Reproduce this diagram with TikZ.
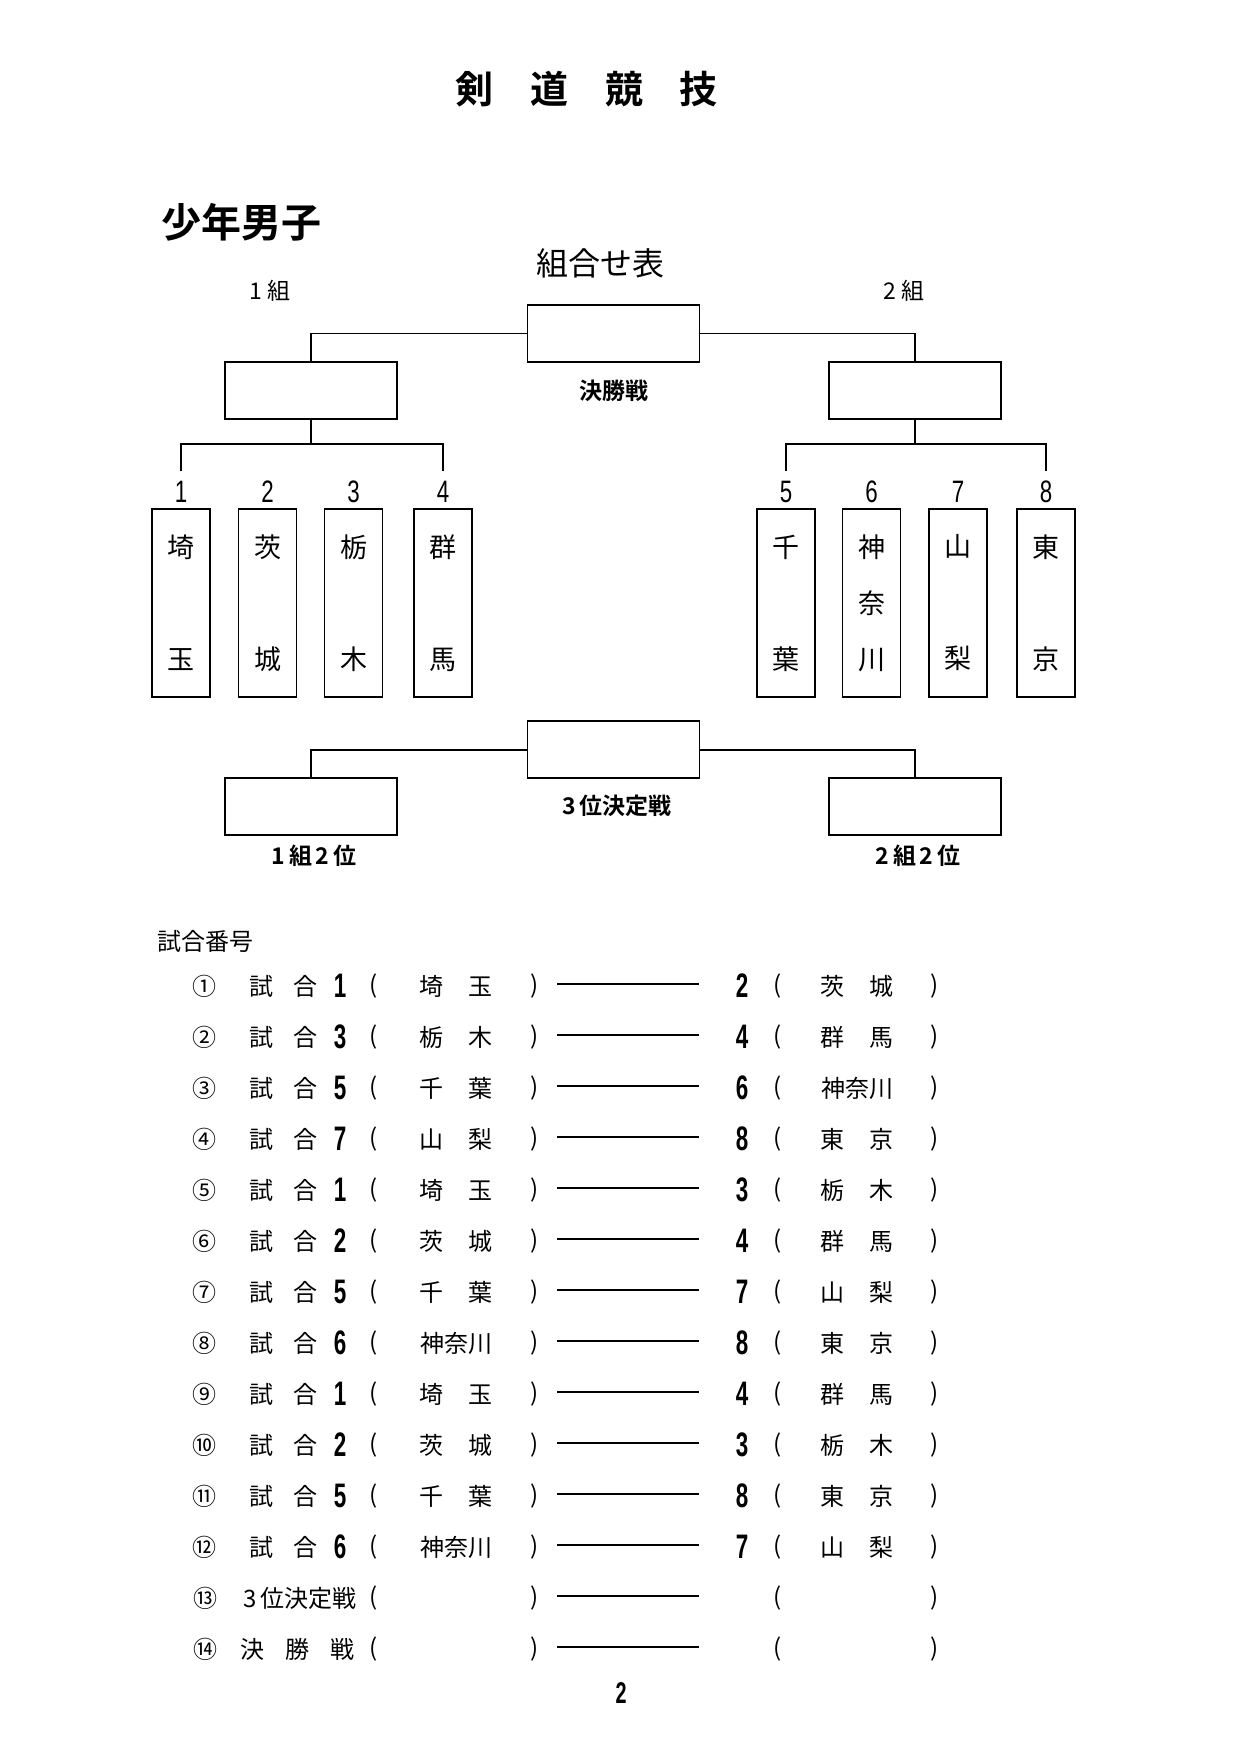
\documentclass[tikz,border=0pt]{standalone}
\usepackage{fontspec}
\setmainfont{Noto Sans CJK JP}[BoldFont={Noto Sans CJK JP Bold}]
\newfontfamily\digfont{Liberation Sans}[FakeStretch=0.72]
\newfontfamily\digbold{Liberation Sans Bold}[FakeStretch=0.66]
\usetikzlibrary{calc}
\newcommand{\ken}[2]{#1\hspace{25pt}#2}

\tikzset{
  winbox/.style={draw, line width=1.6pt, minimum width=172pt, minimum height=57pt, inner sep=0pt},
  teambox/.style={draw, line width=1.6pt, minimum width=58pt, minimum height=188pt, inner sep=0pt,
    align=center, font=\fontsize{27}{56}\selectfont},
  seed/.style={font=\digfont\fontsize{31}{31}\selectfont, inner sep=10pt},
  boldlbl/.style={font=\bfseries\fontsize{23}{23}\selectfont, inner sep=0pt},
  cell/.style={font=\fontsize{24}{24}\selectfont, inner sep=0pt},
  cellnum/.style={font=\digbold\fontsize{34}{34}\selectfont, inner sep=0pt},
  link/.style={line width=1.6pt},
}

\begin{document}
\begin{tikzpicture}[x=1pt, y=-1pt]
    \useasboundingbox (0,0) rectangle (1241,1755);
    \fill[white] (0,0) rectangle (1241,1755);

    % Titles
    \node[font=\bfseries\fontsize{38}{38}\selectfont] (ti1) at (474,89) {剣};
    \node[font=\bfseries\fontsize{38}{38}\selectfont] (ti2) at (549,89) {道};
    \node[font=\bfseries\fontsize{38}{38}\selectfont] (ti3) at (624,89) {競};
    \node[font=\bfseries\fontsize{38}{38}\selectfont] (ti4) at (698,89) {技};
    \node[anchor=west, font=\bfseries\fontsize{40}{40}\selectfont, inner sep=0pt] (event) at (161,222) {少年男子};
    \node[font=\fontsize{32}{32}\selectfont] (sheet) at (600,263) {組合せ表};
    \node[font=\fontsize{23}{23}\selectfont] (grp1) at (270,291) {1 組};
    \node[font=\fontsize{23}{23}\selectfont] (grp2) at (904,291) {2 組};

    % Final and group winners
    \node[winbox] (fin) at (613.5,333.5) {};
    \node[winbox] (semi1) at (311,390.5) {};
    \node[winbox] (semi2) at (915,390.5) {};
    \node[boldlbl] (finlbl) at (614,390.5) {決勝戦};
    \draw[link] (fin.west) -| (semi1.north);
    \draw[link] (fin.east) -| (semi2.north);

    % Teams, group 1
    \node[teambox] (t1) at (181,603) {埼\\[56pt]玉};
    \node[teambox] (t2) at (267.5,603) {茨\\[56pt]城};
    \node[teambox] (t3) at (353.5,603) {栃\\[56pt]木};
    \node[teambox] (t4) at (443,603) {群\\[56pt]馬};
    \node[seed] (n1) at (181,492) {1};
    \node[seed] (n2) at (267.5,492) {2};
    \node[seed] (n3) at (353.5,492) {3};
    \node[seed] (n4) at (443,492) {4};

    % Teams, group 2
    \node[teambox] (t5) at (786,603) {千\\[56pt]葉};
    \node[teambox] (t6) at (871.5,603) {神\\奈\\川};
    \node[teambox] (t7) at (958,603) {山\\[56pt]梨};
    \node[teambox] (t8) at (1046,603) {東\\[56pt]京};
    \node[seed] (n5) at (786,492) {5};
    \node[seed] (n6) at (871.5,492) {6};
    \node[seed] (n7) at (958,492) {7};
    \node[seed] (n8) at (1046,492) {8};

    % Group brackets
    \coordinate (j1) at (311,444);
    \coordinate (j2) at (915,444);
    \draw[link] (semi1.south) -- (j1);
    \draw[link] (n1.north) |- (j1) -| (n4.north);
    \draw[link] (semi2.south) -- (j2);
    \draw[link] (n5.north) |- (j2) -| (n8.north);

    % Third place
    \node[winbox] (third) at (613.5,749.7) {};
    \node[winbox] (sec1) at (311,806.3) {};
    \node[winbox] (sec2) at (915,806.3) {};
    \node[boldlbl] (thirdlbl) at (617,806) {3\,位決定戦};
    \node[boldlbl] (sec1lbl) at (314,856) {1\,組\,2\,位};
    \node[boldlbl] (sec2lbl) at (918,856) {2\,組\,2\,位};
    \draw[link] (third.west) -| (sec1.north);
    \draw[link] (third.east) -| (sec2.north);

    % Match list
    \node[cell, anchor=west] (listhead) at (157,941) {試合番号};
    \foreach \mno/\lnum/\lft/\rnum/\rgt [count=\i] in {
        ①/1/{\ken{埼}{玉}}/2/{\ken{茨}{城}},
        ②/3/{\ken{栃}{木}}/4/{\ken{群}{馬}},
        ③/5/{\ken{千}{葉}}/6/{神奈川},
        ④/7/{\ken{山}{梨}}/8/{\ken{東}{京}},
        ⑤/1/{\ken{埼}{玉}}/3/{\ken{栃}{木}},
        ⑥/2/{\ken{茨}{城}}/4/{\ken{群}{馬}},
        ⑦/5/{\ken{千}{葉}}/7/{\ken{山}{梨}},
        ⑧/6/{神奈川}/8/{\ken{東}{京}},
        ⑨/1/{\ken{埼}{玉}}/4/{\ken{群}{馬}},
        ⑩/2/{\ken{茨}{城}}/3/{\ken{栃}{木}},
        ⑪/5/{\ken{千}{葉}}/8/{\ken{東}{京}},
        ⑫/6/{神奈川}/7/{\ken{山}{梨}}
    }{
        \pgfmathsetmacro\y{986+(\i-1)*51}
        \node[cell] (m\i) at (204,\y) {\mno};
        \node[cell] (s\i) at (261,\y) {試};
        \node[cell] (g\i) at (305,\y) {合};
        \node[cellnum] (a\i) at (340,\y) {\lnum};
        \node[cell] (ap\i) at (374,\y) {(};
        \node[cell] (at\i) at (456,\y) {\lft};
        \node[cell] (aq\i) at (535,\y) {)};
        \coordinate (u\i) at (557,\y-2);
        \coordinate (v\i) at (699,\y-2);
        \draw[link] (u\i) -- (v\i);
        \node[cellnum] (b\i) at (742,\y) {\rnum};
        \node[cell] (bp\i) at (778,\y) {(};
        \node[cell] (bt\i) at (857,\y) {\rgt};
        \node[cell] (bq\i) at (935,\y) {)};
    }

    % Third place and final rows
    \node[cell] (m13) at (205,1598) {⑬};
    \node[cell] (s13) at (300,1598) {3\,位決定戦};
    \node[cell] (ap13) at (374,1598) {(};
    \node[cell] (aq13) at (535,1598) {)};
    \coordinate (u13) at (557,1596);
    \coordinate (v13) at (699,1596);
    \draw[link] (u13) -- (v13);
    \node[cell] (bp13) at (778,1598) {(};
    \node[cell] (bq13) at (935,1598) {)};

    \node[cell] (m14) at (205,1649) {⑭};
    \node[cell] (s14) at (297,1649) {決\hspace{21pt}勝\hspace{21pt}戦};
    \node[cell] (ap14) at (374,1649) {(};
    \node[cell] (aq14) at (535,1649) {)};
    \coordinate (u14) at (557,1647);
    \coordinate (v14) at (699,1647);
    \draw[link] (u14) -- (v14);
    \node[cell] (bp14) at (778,1649) {(};
    \node[cell] (bq14) at (935,1649) {)};

    % Page number
    \node[cellnum, font=\digbold\fontsize{30}{30}\selectfont] (page) at (621,1693) {2};
\end{tikzpicture}
\end{document}
